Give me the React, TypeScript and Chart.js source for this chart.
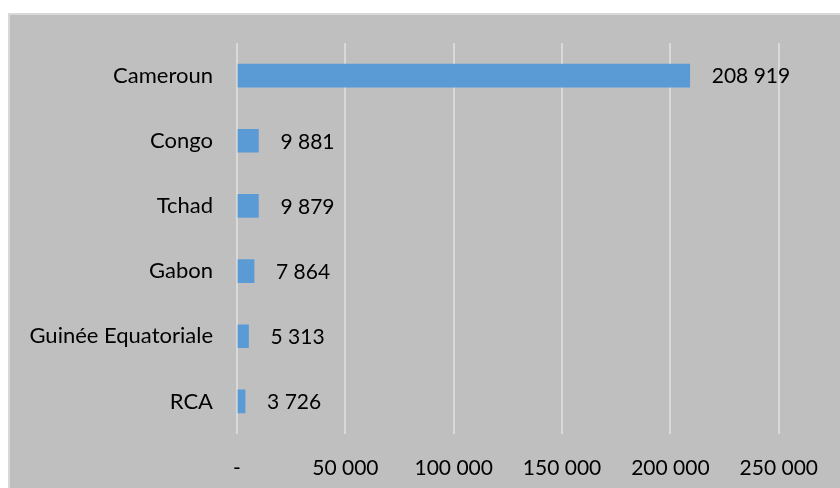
import React, { useEffect, useRef } from "react";
import { Chart, registerables } from "chart.js";

Chart.register(...registerables);

const categories = ["Cameroun", "Congo", "Tchad", "Gabon", "Guinée Equatoriale", "RCA"];
const values = [208919, 9881, 9879, 7864, 5313, 3726];
const tickValues = [0, 50000, 100000, 150000, 200000, 250000];

const FONT = "Lato, 'Liberation Sans', sans-serif";

function fmt(v: number): string {
  if (v === 0) return "-";
  return Math.round(v)
    .toString()
    .replace(/\B(?=(\d{3})+(?!\d))/g, " ");
}

const labelPlugin = {
  id: "barValueLabels",
  afterDatasetsDraw(chart: any) {
    const ctx = chart.ctx;
    const meta = chart.getDatasetMeta(0);
    ctx.save();
    ctx.font = `21px ${FONT}`;
    ctx.fillStyle = "#000000";
    ctx.textAlign = "left";
    ctx.textBaseline = "middle";
    meta.data.forEach((bar: any, i: number) => {
      ctx.fillText(fmt(values[i]), bar.x + 22, bar.y + 1);
    });
    ctx.restore();
  },
};

export default function App() {
  const ref = useRef<HTMLCanvasElement | null>(null);
  useEffect(() => {
    if (!ref.current) return;
    const chart = new Chart(ref.current, {
      type: "bar",
      data: {
        labels: categories,
        datasets: [
          {
            data: values,
            backgroundColor: "#5b9bd5",
            borderWidth: 0,
            barThickness: 23,
          },
        ],
      },
      options: {
        indexAxis: "y",
        animation: false,
        responsive: false,
        maintainAspectRatio: false,
        layout: { padding: { left: 0, right: 61, top: 28, bottom: 0 } },
        plugins: {
          legend: { display: false },
          tooltip: { enabled: false },
        },
        scales: {
          x: {
            min: 0,
            max: 250000,
            afterBuildTicks(scale: any) {
              scale.ticks = tickValues.map((v) => ({ value: v }));
            },
            afterFit(scale: any) {
              scale.height = 54;
            },
            grid: { color: "#d9d9d9", lineWidth: 2, drawTicks: false },
            border: { display: false },
            ticks: {
              color: "#000000",
              font: { family: FONT, size: 21 },
              padding: 22,
              maxRotation: 0,
              callback: (v: any) => fmt(Number(v)),
            },
          },
          y: {
            afterFit(scale: any) {
              scale.width = 227;
              scale.paddingTop = 0;
              scale.paddingBottom = 0;
            },
            grid: { display: false, drawTicks: false },
            border: { display: false },
            ticks: {
              color: "#000000",
              font: { family: FONT, size: 22 },
              padding: 24,
            },
          },
        },
      },
      plugins: [labelPlugin],
    });
    return () => chart.destroy();
  }, []);

  return (
    <div
      style={{
        position: "fixed",
        left: 8,
        top: 13,
        width: 840,
        height: 490,
        background: "#bfbfbf",
        borderLeft: "2px solid #d9d9d9",
        borderTop: "2px solid #d9d9d9",
      }}
    >
      <canvas ref={ref} width={830} height={473} style={{ display: "block", width: 830, height: 473 }} />
    </div>
  );
}
